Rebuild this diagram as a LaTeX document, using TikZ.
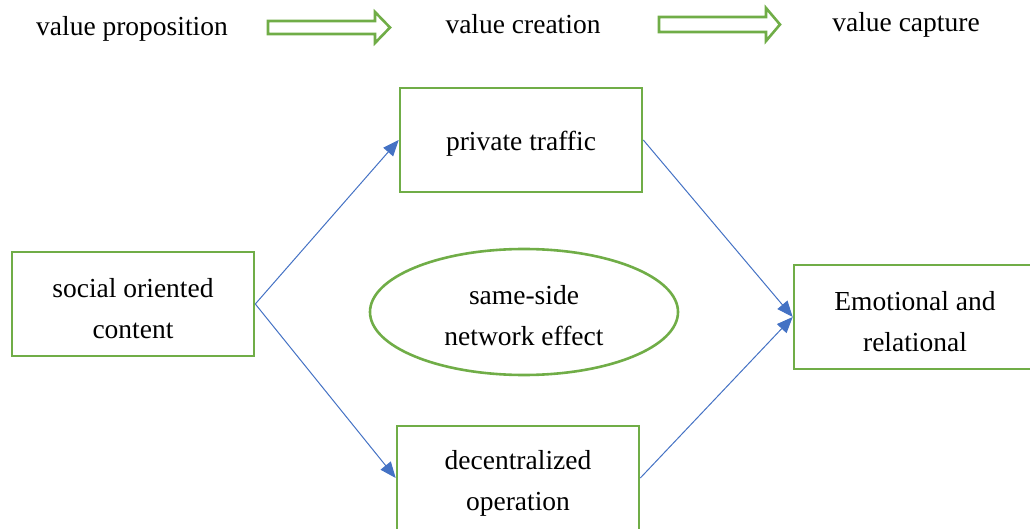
\documentclass[tikz,border=0pt]{standalone}
\usepackage{fontspec}
\setmainfont{Liberation Serif}
\usetikzlibrary{arrows.meta,shapes.geometric}
\definecolor{bgreen}{HTML}{70AD47}
\definecolor{bblue}{HTML}{4472C4}
\begin{document}
\begin{tikzpicture}[x=1pt,y=-1pt,
  txt/.style={font=\fontsize{27.5}{41}\selectfont, align=center, inner sep=0pt},
  box/.style={draw=bgreen, line width=2.6pt, minimum width=242pt, minimum height=104pt, inner sep=0pt},
  oval/.style={draw=bgreen, line width=2.6pt, ellipse, minimum width=308pt, minimum height=126pt, inner sep=0pt},
  conn/.style={draw=bblue, line width=1pt, -{Triangle[length=16pt,width=13pt]}},
  blockarrow/.style={draw=bgreen, line width=2.6pt, fill=white, line join=miter}]
\useasboundingbox (0,0) rectangle (1030,529);
\clip (0,0) rectangle (1030,529);
% top labels
\node[txt] (vp) at (132,28.5) {value proposition};
\node[txt] (vcr) at (523,24.5) {value creation};
\node[txt] (vca) at (906,24.5) {value capture};
% block arrows
\draw[blockarrow] (268,21) -- (375,21) -- (375,12) -- (390,27.5) -- (375,43) -- (375,34) -- (268,34) -- cycle;
\draw[blockarrow] (659,17) -- (766,17) -- (766,8) -- (780,24.5) -- (766,41) -- (766,32) -- (659,32) -- cycle;
% boxes
\node[box] (soc) at (133,304) {};
\node[box] (pt) at (521,140) {};
\node[box] (dec) at (518,478) {};
\node[box] (emo) at (915,317) {};
\node[oval] (net) at (524,312) {};
% box texts
\node[txt] (soct) at (133,309) {social oriented\\content};
\node[txt] (ptt) at (521,144) {private traffic};
\node[txt] (dect) at (518,483) {decentralized\\operation};
\node[txt] (emot) at (915,322) {Emotional and\\relational};
\node[txt] (nett) at (524,316) {same-side\\network effect};
% connectors
\draw[conn] (soc.east) -- (pt.west);
\draw[conn] (soc.east) -- (dec.west);
\draw[conn] (pt.east) -- (emo.west);
\draw[conn] (dec.east) -- (emo.west);
\end{tikzpicture}
\end{document}
